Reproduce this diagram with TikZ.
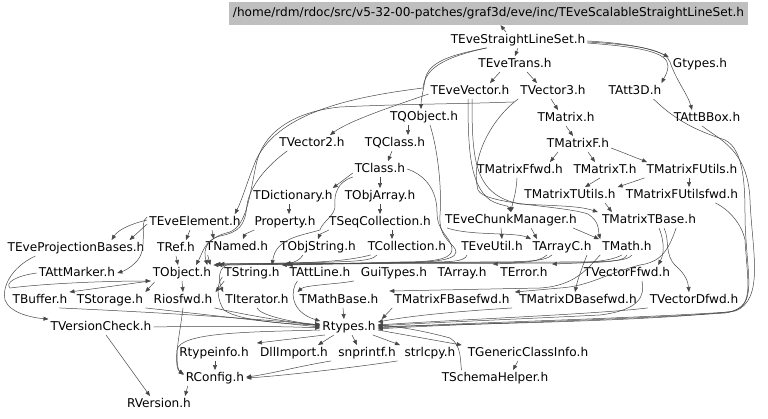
\documentclass[tikz,border=0pt]{standalone}
\usepackage{fontspec}
\setmainfont{DejaVu Sans}
\usetikzlibrary{arrows.meta,calc}
\begin{document}
\begin{tikzpicture}[x=1pt,y=-1pt,
  n/.style={font=\fontsize{12.1}{14}\selectfont, inner sep=2pt, text height=9pt, text depth=2.5pt},
  rootbox/.style={n, fill=black!25, minimum width=519pt, minimum height=23pt, inner sep=0pt},
  e/.style={draw=black!72, line width=0.5pt, -{Triangle[length=5pt,width=4pt]}}]
\useasboundingbox[fill=white] (0,0) rectangle (768,419);
% nodes
\node[rootbox] (root) at (488.5,13.5) {/home/rdm/rdoc/src/v5-32-00-patches/graf3d/eve/inc/TEveScalableStraightLineSet.h};
\node[n] (tesl) at (518,40) {TEveStraightLineSet.h};
\node[n] (trans) at (515,64) {TEveTrans.h};
\node[n] (gtypes) at (700,64) {Gtypes.h};
\node[n] (evec) at (470,91) {TEveVector.h};
\node[n] (v3) at (553,91) {TVector3.h};
\node[n] (att3d) at (635,91) {TAtt3D.h};
\node[n] (qobj) at (424,117) {TQObject.h};
\node[n] (matrix) at (566,118) {TMatrix.h};
\node[n] (bbox) at (707,118) {TAttBBox.h};
\node[n] (v2) at (312,143) {TVector2.h};
\node[n] (qclass) at (395,143) {TQClass.h};
\node[n] (mf) at (578,144) {TMatrixF.h};
\node[n] (tclass) at (380,169) {TClass.h};
\node[n] (mffwd) at (520,170) {TMatrixFfwd.h};
\node[n] (mt) at (605,170) {TMatrixT.h};
\node[n] (mfu) at (692,170) {TMatrixFUtils.h};
\node[n] (dict) at (293,196) {TDictionary.h};
\node[n] (objarr) at (380,196) {TObjArray.h};
\node[n] (mtu) at (570,195) {TMatrixTUtils.h};
\node[n] (mfufwd) at (682,195) {TMatrixFUtilsfwd.h};
\node[n] (evel) at (195,222) {TEveElement.h};
\node[n] (prop) at (285,222) {Property.h};
\node[n] (seqc) at (380,222) {TSeqCollection.h};
\node[n] (chunk) at (511,220) {TEveChunkManager.h};
\node[n] (mtb) at (649,220) {TMatrixTBase.h};
\node[n] (projb) at (76,248) {TEveProjectionBases.h};
\node[n] (tref) at (176,248) {TRef.h};
\node[n] (named) at (237,247) {TNamed.h};
\node[n] (objstr) at (318,247) {TObjString.h};
\node[n] (coll) at (407,247) {TCollection.h};
\node[n] (eveutil) at (492,247) {TEveUtil.h};
\node[n] (arrc) at (562,247) {TArrayC.h};
\node[n] (tmath) at (627,247) {TMath.h};
\node[n] (attm) at (77,273) {TAttMarker.h};
\node[n] (tobj) at (182,273) {TObject.h};
\node[n] (tstr) at (252,273) {TString.h};
\node[n] (attl) at (320,273) {TAttLine.h};
\node[n] (gui) at (394,273) {GuiTypes.h};
\node[n] (tarr) at (462,273) {TArray.h};
\node[n] (terr) at (524,273) {TError.h};
\node[n] (vffwd) at (627,273) {TVectorFfwd.h};
\node[n] (tbuf) at (40,300) {TBuffer.h};
\node[n] (tstor) at (110,300) {TStorage.h};
\node[n] (riosfwd) at (183,300) {Riosfwd.h};
\node[n] (titer) at (257,300) {TIterator.h};
\node[n] (mathb) at (339,300) {TMathBase.h};
\node[n] (mfbfwd) at (452,300) {TMatrixFBasefwd.h};
\node[n] (mdbfwd) at (578,300) {TMatrixDBasefwd.h};
\node[n] (vdfwd) at (694,300) {TVectorDfwd.h};
\node[n] (vcheck) at (101,327) {TVersionCheck.h};
\node[n] (rtypes) at (349,327) {Rtypes.h};
\node[n] (rtinfo) at (214,353) {Rtypeinfo.h};
\node[n] (dll) at (294,353) {DllImport.h};
\node[n] (snp) at (367,353) {snprintf.h};
\node[n] (strl) at (430,353) {strlcpy.h};
\node[n] (gci) at (528,353) {TGenericClassInfo.h};
\node[n] (rconf) at (215,378) {RConfig.h};
\node[n] (schema) at (495,378) {TSchemaHelper.h};
\node[n] (rver) at (159,404) {RVersion.h};
% top edges
\draw[e] ($(tesl.north)+(-12,0)$) -- ($(root.south)+(12,0)$);
\draw[e] (tesl.south) -- (trans.north);
\draw[e] ($(tesl.east)+(0,1)$) .. controls (625,43) and (650,48) .. ($(gtypes.north west)+(-2,1)$);
\draw[e] ($(tesl.east)+(0,3)$) .. controls (640,47) and (668,52) .. (668,66) .. controls (668,72) and (665,76) .. ($(att3d.north east)+(-2,0)$);
\draw[e] ($(tesl.east)+(0,2)$) .. controls (640,45) and (666,50) .. (670,62) .. controls (676,80) and (688,95) .. ($(bbox.north)+(-15,0)$);
\draw[e] ($(tesl.south west)+(38,0)$) .. controls (450,55) and (428,62) .. (425,80) .. controls (423,92) and (421,100) .. ($(qobj.north)+(-3,0)$);
\draw[e] ($(tesl.south west)+(38,0)$) .. controls (440,58) and (425,70) .. (423,88) .. controls (360,96) and (280,110) .. (256,160) .. controls (246,185) and (242,200) .. ($(evel.north east)+(-8,0)$);
\draw[e] ($(trans.south)+(-15,0)$) -- ($(evec.north)+(20,0)$);
\draw[e] ($(trans.south)+(12,0)$) -- ($(v3.north)+(-16,0)$);
\draw[e] ($(v3.south)+(-2,0)$) -- ($(matrix.north)+(-8,0)$);
\draw[e] (matrix.south) -- ($(mf.north)+(-5,0)$);
\draw[e] ($(evec.west)+(0,3)$) .. controls (400,104) and (350,120) .. ($(v2.north)+(18,0)$);
\draw[e] ($(qobj.south)+(-16,0)$) -- ($(qclass.north)+(13,0)$);
\draw[e] ($(qclass.south)+(-3,0)$) -- ($(tclass.north)+(8,0)$);
\draw[e] ($(tclass.west)+(0,4)$) -- ($(dict.north east)+(-2,0)$);
\draw[e] (tclass.south) -- (objarr.north);
\draw[e] ($(dict.south)+(-4,0)$) -- ($(prop.north)+(4,0)$);
\draw[e] (objarr.south) -- (seqc.north);
\draw[e] ($(seqc.south)+(12,0)$) -- ($(coll.north)+(-15,0)$);
% matrix
\draw[e] ($(mf.south)+(-20,0)$) -- ($(mffwd.north)+(30,0)$);
\draw[e] ($(mf.south)+(10,0)$) -- ($(mt.north)+(-10,0)$);
\draw[e] ($(mf.east)+(0,4)$) -- ($(mfu.north)+(-45,0)$);
\draw[e] ($(mt.south)+(-5,0)$) -- ($(mtu.north)+(15,0)$);
\draw[e] (mfu.south west) -- (mtu.north east);
\draw[e] ($(mfu.south)+(-3,0)$) -- ($(mfufwd.north)+(7,0)$);
\draw[e] ($(mtu.south)+(35,0)$) -- ($(mtb.north west)+(12,0)$);
% chunk manager region
\draw[e] ($(evec.south)+(-2,0)$) .. controls (468,150) and (470,185) .. (490,200) .. controls (500,206) and (508,205) .. (chunk.north);
\draw[e] ($(evec.south)+(2,0)$) .. controls (472,160) and (474,195) .. (520,204) .. controls (560,206) and (580,206) .. ($(mtb.north west)+(-2,0)$);
\draw[e] (v3.south west) .. controls (490,120) and (470,160) .. (478,190) .. controls (485,205) and (560,205) .. (588,214) .. controls (600,222) and (598,230) .. (tmath.north west);
\draw[e] ($(mffwd.south)+(-3,0)$) .. controls (516,195) and (513,200) .. (chunk.north);
\draw[e] ($(chunk.south)+(-10,0)$) -- ($(eveutil.north)+(10,0)$);
\draw[e] ($(chunk.south)+(20,0)$) -- ($(arrc.north)+(-25,0)$);
\draw[e] ($(chunk.south west)+(4,0)$) .. controls (470,236) and (515,232) .. ($(arrc.north)+(-31,0)$);
\draw[e] ($(chunk.south east)+(-6,0)$) -- ($(tmath.north)+(-28,0)$);
% matrix base
\draw[e] ($(mtb.south)+(10,0)$) .. controls (662,235) and (666,250) .. ($(vffwd.north east)+(-14,0)$);
\draw[e] ($(mtb.south)+(15,0)$) .. controls (670,240) and (664,255) .. (676,266) .. controls (686,275) and (688,282) .. ($(vdfwd.north)+(-5,0)$);
\draw[e] ($(mtb.south east)+(-22,0)$) .. controls (668,252) and (660,262) .. (640,265) .. controls (605,274) and (590,286) .. (560,288) -- ($(mfbfwd.north east)+(3,0)$);
\draw[e] (tmath.south west) .. controls (588,268) and (575,286) .. (540,288) -- ($(mfbfwd.north west)+(-3,-1)$);
\draw[e] ($(tmath.south)+(-40,0)$) .. controls (582,268) and (578,278) .. ($(mdbfwd.north)+(-3,0)$);
% bundle under row 9
\draw[e] (tmath.south) .. controls (625,262) and (600,263) .. (560,263) -- ($(tstr.north east)+(2,-1)$);
\draw[e] ($(tmath.south)+(5,0)$) .. controls (628,262) and (600,262) .. (560,262) -- ($(tobj.north east)+(2,-1)$);
\draw[e] ($(tmath.south)+(-5,0)$) .. controls (610,262) and (580,263) .. ($(terr.north east)+(2,-1)$);
\draw[e] ($(arrc.south)+(-15,0)$) .. controls (540,262) and (520,263) .. ($(tarr.north east)+(4,-1)$);
\draw[e] ($(arrc.south)+(-10,0)$) .. controls (545,262) and (520,262) .. (480,262) -- ($(tobj.north east)+(4,0)$);
\draw[e] ($(eveutil.south)+(-25,0)$) .. controls (465,262) and (450,262) .. (420,262) -- ($(tstr.north east)+(6,0)$);
\draw[e] ($(coll.south)+(-30,0)$) .. controls (370,262) and (360,262) .. ($(tobj.north east)+(6,-1)$);
\draw[e] ($(objstr.south)+(-15,0)$) .. controls (300,260) and (295,262) .. ($(tstr.north east)+(4,-1)$);
\draw[e] ($(named.south west)+(4,0)$) -- ($(tobj.north east)+(-3,0)$);
% long routes from above
\draw[e] ($(qobj.south)+(6,0)$) .. controls (438,150) and (442,190) .. (440,215) .. controls (438,240) and (456,244) .. (456,252) .. controls (456,262) and (420,263) .. (380,263) -- (tobj.north east);
\draw[e] (tclass.east) .. controls (425,175) and (437,190) .. (437,212) .. controls (437,232) and (450,236) .. (452,248) .. controls (453,258) and (440,262) .. (400,262) -- (tstr.north east);
\draw[e] ($(tclass.west)+(0,8)$) .. controls (337,182) and (334,195) .. (335,205) .. controls (336,215) and (322,222) .. (320,230) .. controls (300,236) and (276,238) .. ($(tstr.north)+(20,0)$);
\draw[e] ($(v3.south west)+(-4,3)$) .. controls (460,104) and (400,104) .. (340,107) .. controls (290,112) and (262,135) .. (256,165) .. controls (249,200) and (246,225) .. (230,232) .. controls (205,238) and (203,250) .. ($(tobj.north east)+(-6,0)$);
\draw[e] ($(v2.south west)+(10,0)$) .. controls (268,165) and (250,185) .. (247,205) .. controls (245,225) and (240,232) .. (220,236) .. controls (205,240) and (203,252) .. ($(tobj.north)+(14,0)$);
% left cluster
\draw[e] ($(evel.west)+(0,-2)$) .. controls (130,224) and (118,230) .. ($(projb.north east)+(-35,0)$);
\draw[e] ($(evel.west)+(0,2)$) -- ($(projb.north east)+(-17,0)$);
\draw[e] ($(evel.south)+(-5,0)$) -- ($(tref.north)+(10,0)$);
\draw[e] ($(evel.south)+(17,0)$) -- ($(named.north west)+(10,0)$);
\draw[e] ($(evel.west)+(0,-5)$) .. controls (138,222) and (150,250) .. (135,263) .. controls (130,268) and (124,271) .. (attm.east);
\draw[e] (tref.south) -- ($(tobj.north)+(-4,0)$);
\draw[e] ($(prop.south west)+(2,0)$) .. controls (250,232) and (245,234) .. ($(named.north)+(6,0)$);
\draw[e] ($(seqc.south west)+(2,0)$) .. controls (325,232) and (320,234) .. (objstr.north);
\draw[e] (tobj.south west) -- (tbuf.north east);
\draw[e] ($(tobj.south west)+(4,1)$) -- (tstor.north east);
\draw[e] (tobj.south) -- (riosfwd.north);
\draw[e] (attm.west) .. controls (15,276) and (5,283) .. (10,288) .. controls (50,283) and (110,281) .. ($(tobj.west)+(0,8)$);
\draw[e] ($(projb.south west)+(30,0)$) .. controls (10,268) and (2,288) .. (5,300) .. controls (10,314) and (35,318) .. (vcheck.north west);
\draw[e] ($(tstr.south west)+(2,0)$) -- ($(riosfwd.north east)+(1,0)$);
\draw[e] ($(coll.south west)+(5,0)$) .. controls (340,263) and (300,263) .. (230,264) .. controls (218,266) and (218,280) .. (titer.north west);
% into Rtypes
\draw[e] ($(tstr.west)+(0,4)$) .. controls (216,285) and (217,300) .. (224,310) .. controls (240,322) and (300,325) .. ($(rtypes.west)+(0,-3)$);
\draw[e] ($(tbuf.south east)+(-10,0)$) .. controls (150,312) and (250,318) .. ($(rtypes.west)+(0,-2)$);
\draw[e] (tstor.south east) .. controls (200,314) and (270,322) .. (rtypes.west);
\draw[e] (vcheck.east) .. controls (200,326) and (280,326) .. ($(rtypes.west)+(0,1)$);
\draw[e] (riosfwd.south east) .. controls (250,316) and (290,322) .. ($(rtypes.west)+(0,-1)$);
\draw[e] (titer.south) .. controls (260,315) and (290,322) .. ($(rtypes.west)+(0,-2)$);
\draw[e] ($(attl.south west)+(10,0)$) .. controls (290,290) and (290,312) .. ($(rtypes.north west)+(0,2)$);
\draw[e] ($(gui.south west)+(-5,0)$) .. controls (340,284) and (305,285) .. (mathb.north west);
\draw[e] ($(mathb.south)+(4,0)$) -- ($(rtypes.north)+(-5,0)$);
\draw[e] (mfbfwd.south west) -- ($(rtypes.north east)+(4,0)$);
\draw[e] ($(mdbfwd.south west)+(-5,0)$) .. controls (480,310) and (420,314) .. ($(rtypes.north east)+(0,3)$);
\draw[e] (vdfwd.south west) .. controls (600,314) and (450,320) .. ($(rtypes.east)+(0,-2)$);
\draw[e] ($(vffwd.south)+(15,0)$) .. controls (645,296) and (640,310) .. (600,315) .. controls (500,320) and (420,323) .. ($(rtypes.east)+(0,-1)$);
\draw[e] ($(bbox.south)+(-5,0)$) .. controls (720,140) and (748,150) .. (750,200) .. controls (752,250) and (765,300) .. (735,311) .. controls (650,322) and (450,324) .. (rtypes.east);
\draw[e] ($(att3d.south east)+(-10,0)$) .. controls (680,125) and (705,133) .. (725,140) .. controls (745,150) and (745,190) .. (745,220) .. controls (747,280) and (758,305) .. (730,312) .. controls (600,320) and (450,323) .. ($(rtypes.east)+(0,1)$);
\draw[e] ($(mfufwd.south east)+(-25,0)$) .. controls (730,210) and (742,225) .. (745,240) .. controls (748,290) and (755,308) .. (725,313) .. controls (600,321) and (450,324) .. ($(rtypes.east)+(0,2)$);
\draw[e] ($(schema.north west)+(22,0)$) .. controls (460,362) and (462,345) .. (450,338) .. controls (420,330) and (400,327) .. ($(rtypes.east)+(0,-2)$);
% out of Rtypes
\draw[e] ($(rtypes.south west)+(5,0)$) -- ($(rtinfo.north east)+(6,-2)$);
\draw[e] ($(rtypes.south)+(-15,0)$) -- ($(dll.north)+(24,0)$);
\draw[e] ($(rtypes.south)+(3,0)$) -- ($(snp.north)+(-10,0)$);
\draw[e] ($(rtypes.south east)+(-5,0)$) -- ($(strl.north)+(-30,0)$);
\draw[e] ($(rtypes.east)+(0,3)$) -- ($(gci.north west)+(-4,0)$);
\draw[e] ($(rtypes.west)+(0,3)$) .. controls (250,332) and (180,332) .. (177,350) .. controls (176,362) and (177,370) .. ($(rconf.west)+(0,-4)$);
\draw[e] (riosfwd.south) .. controls (181,325) and (177,345) .. (177,355) .. controls (177,365) and (178,370) .. ($(rconf.west)+(0,-3)$);
\draw[e] ($(rtinfo.south)+(1,0)$) -- (rconf.north);
\draw[e] ($(snp.south west)+(-5,0)$) .. controls (300,366) and (270,374) .. ($(rconf.east)+(0,-1)$);
\draw[e] ($(strl.south west)+(-5,0)$) .. controls (350,368) and (280,376) .. (rconf.east);
\draw[e] ($(rconf.south west)+(4,0)$) -- ($(rver.north east)+(-8,0)$);
\draw[e] ($(vcheck.south)+(5,0)$) -- ($(rver.north)+(-9,0)$);
\draw[e] ($(gci.south)+(-10,0)$) -- ($(schema.north)+(18,0)$);
\end{tikzpicture}
\end{document}
